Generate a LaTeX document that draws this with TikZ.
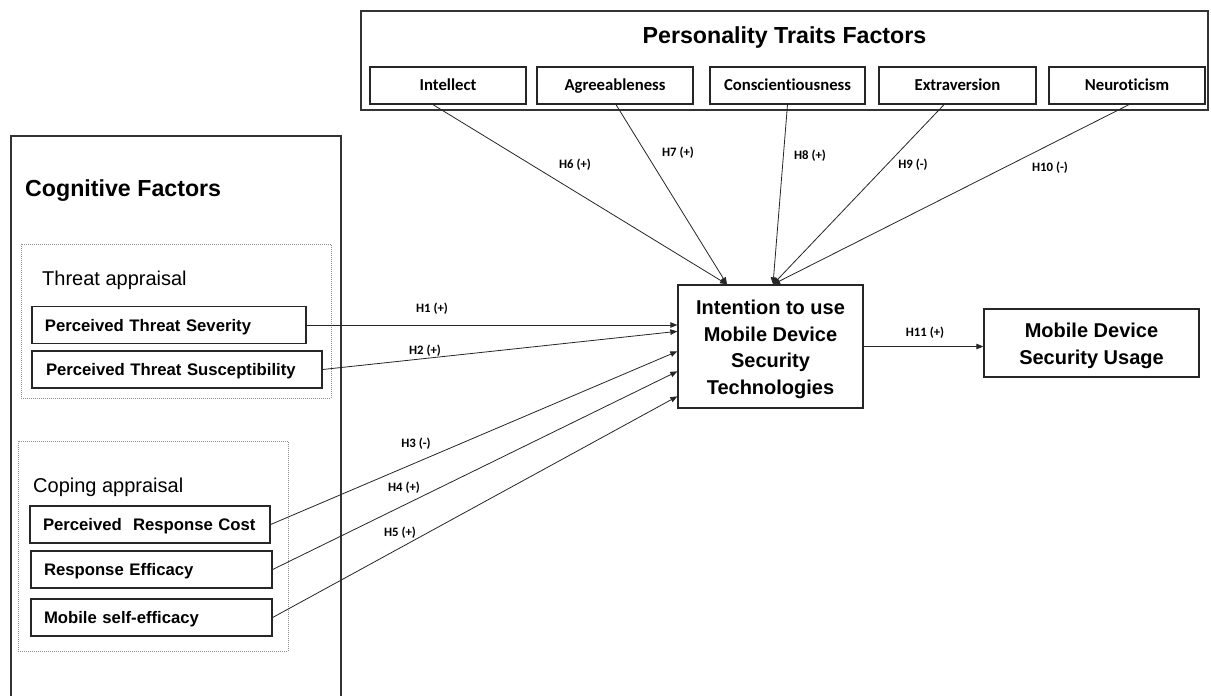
\documentclass[tikz,border=0pt]{standalone}
\usepackage{fontspec}
\setmainfont{Liberation Sans}
\newfontfamily\carlito[Ligatures=NoCommon]{Carlito}
\usetikzlibrary{arrows.meta,calc}

\begin{document}
\begin{tikzpicture}[x=1pt,y=-1pt,
  frame/.style={draw=black!85, line width=1.3pt, inner sep=0pt},
  group/.style={draw=black!80, line width=1.6pt, inner sep=0pt},
  zone/.style={draw=black!45, line width=0.7pt, dash pattern=on 1pt off 1pt, inner sep=0pt},
  trait/.style={frame, minimum width=156pt, minimum height=37pt,
    text height=10.8pt, text depth=0pt,
    font=\carlito\bfseries\fontsize{16.7}{20}\selectfont},
  factor/.style={frame, minimum height=37pt, inner xsep=13pt, text width=#1,
    text height=12pt, text depth=0pt,
    align=left, font=\bfseries\fontsize{16.7}{20}\selectfont},
  central/.style={frame},
  centraltext/.style={inner sep=0pt, align=center, font=\bfseries\fontsize{20}{26.5}\selectfont},
  heading/.style={inner sep=0pt, font=\bfseries\fontsize{23.2}{28}\selectfont},
  subheading/.style={inner sep=0pt, anchor=west, font=\fontsize{20}{24}\selectfont},
  hyp/.style={inner sep=0pt, font=\carlito\bfseries\fontsize{12.8}{15}\selectfont},
  conn/.style={draw=black!85, line width=0.8pt, -{Triangle[length=7pt,width=5.5pt]}}
]
\useasboundingbox (0,0) rectangle (1211,696);
\fill[white] (0,0) rectangle (1211,696);

% Personality traits group
\node[group, minimum width=847pt, minimum height=99pt] (pers) at (784.5,60.5) {};
\node[heading] (perstitle) at (784.5,38) {Personality Traits Factors};
\node[trait] (intel) at (448,85.5) {Intellect};
\node[trait] (agree) at (615,85.5) {Agreeableness};
\node[trait, minimum width=155pt] (consc) at (787.5,85.5) {Conscientiousness};
\node[trait, minimum width=157pt] (extra) at (957.5,85.5) {Extraversion};
\node[trait] (neuro) at (1127,85.5) {Neuroticism};

% Cognitive factors group (runs past the lower edge)
\node[group, minimum width=330pt, minimum height=566pt] (cog) at (176,419) {};
\node[heading, anchor=west] (cogtitle) at (25,191) {Cognitive Factors};

% Threat appraisal
\node[zone, minimum width=310pt, minimum height=154pt] (threat) at (176,321) {};
\node[subheading] (threattitle) at (42,280) {Threat appraisal};
\node[factor=248pt] (sev) at (169,325) {Perceived Threat Severity};
\node[factor=262pt, inner xsep=14pt] (sus) at (177,369.5) {Perceived Threat Susceptibility};

% Coping appraisal
\node[zone, minimum width=270pt, minimum height=210pt] (coping) at (153,546) {};
\node[subheading] (copingtitle) at (33,487) {Coping appraisal};
\node[factor=214pt] (cost) at (150,524.5) {Perceived\ \ Response Cost};
\node[factor=215pt] (eff) at (151.5,569.5) {Response Efficacy};
\node[factor=215pt] (self) at (151.5,617.5) {Mobile self-efficacy};

% Outcome constructs
\node[central, minimum width=185pt, minimum height=123pt] (int) at (770.5,346.5) {};
\node[centraltext] (inttext) at ($(int.center)+(0,3)$)
  {Intention to use\\Mobile Device\\Security\\Technologies};
\node[central, minimum width=215pt, minimum height=68pt] (use) at (1091.5,343) {};
\node[centraltext, font=\bfseries\fontsize{20}{27}\selectfont] (usetext)
  at ($(use.center)+(0,3)$) {Mobile Device\\Security Usage};

% Arrow ends on the intention box
\coordinate (inA) at ($(int.north)+(-43.5,0)$);
\coordinate (inB) at ($(int.north)+(2.5,0)$);
\coordinate (in2) at ($(int.north west)+(0,47)$);
\coordinate (in3) at ($(int.north west)+(0,67)$);
\coordinate (in4) at ($(int.north west)+(0,87)$);
\coordinate (in5) at ($(int.north west)+(0,112)$);

% Hypothesised paths
\draw[conn] (sev.east) -- (sev.east -| int.west);
\draw[conn] (sus.east) -- (in2);
\draw[conn] (cost.east) -- (in3);
\draw[conn] (eff.east) -- (in4);
\draw[conn] (self.east) -- (in5);
\draw[conn] ([xshift=-15pt]intel.south) -- (inA);
\draw[conn] ([xshift=1pt]agree.south) -- (inA);
\draw[conn] (consc.south) -- (inB);
\draw[conn] ([xshift=-13.5pt]extra.south) -- (inB);
\draw[conn] ([xshift=2pt]neuro.south) -- (inB);
\draw[conn] (int.east) -- (int.east -| use.west);

% Path labels
\node[hyp] (h1) at (432,309) {H1 (+)};
\node[hyp] (h2) at (425,351) {H2 (+)};
\node[hyp] (h3) at (416,444) {H3 (-)};
\node[hyp] (h4) at (404,488) {H4 (+)};
\node[hyp] (h5) at (400,533) {H5 (+)};
\node[hyp] (h6) at (575,165) {H6 (+)};
\node[hyp] (h7) at (678,153) {H7 (+)};
\node[hyp] (h8) at (810,156) {H8 (+)};
\node[hyp] (h9) at (913,165) {H9 (-)};
\node[hyp] (h10) at (1050,168) {H10 (-)};
\node[hyp] (h11) at (925,333) {H11 (+)};
\end{tikzpicture}
\end{document}
